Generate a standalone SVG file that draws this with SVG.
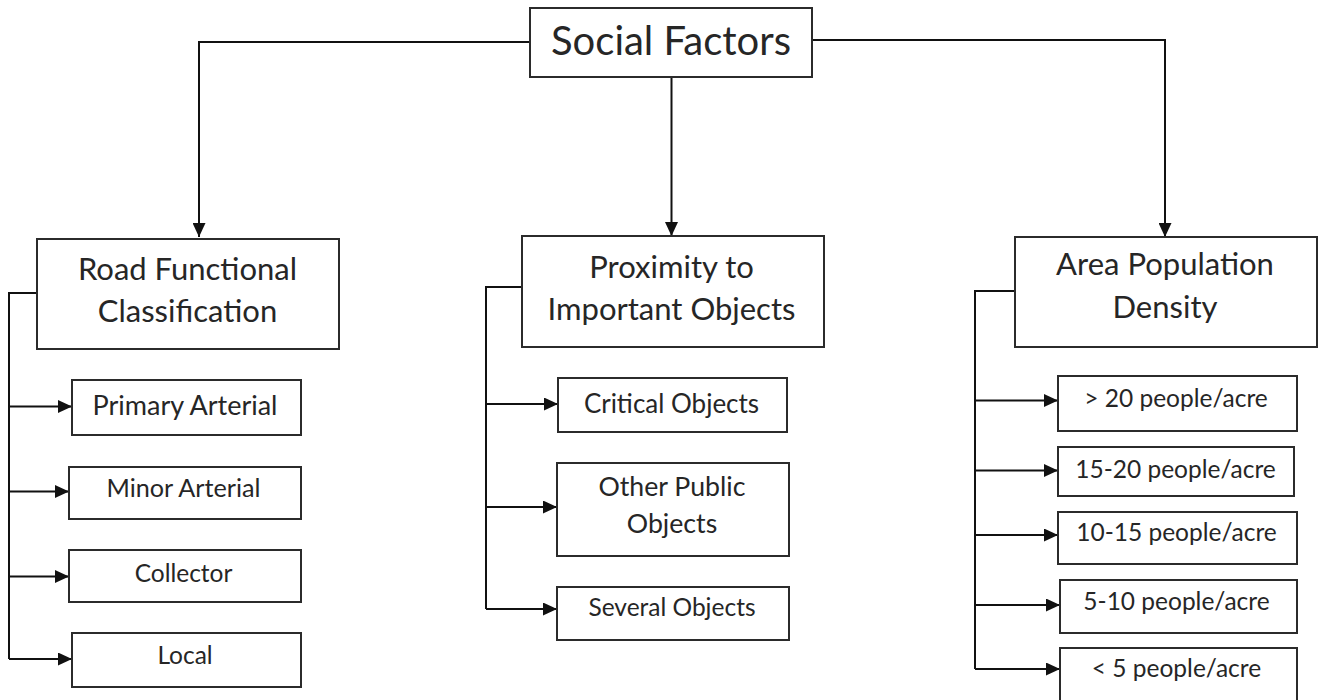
<svg xmlns="http://www.w3.org/2000/svg" width="1319" height="700" viewBox="0 0 1319 700">
<style>
.box{fill:#fff;stroke:#2b2b2b;stroke-width:2}
.t{font-family:Lato,"Liberation Sans",sans-serif;fill:#262626;text-anchor:middle}
.big{font-size:40px}
.mid{font-size:31px}
.sm{font-size:26px}
.xs{font-size:24.5px}
.c{fill:none;stroke:#111;stroke-width:2}
</style>
<defs>
<marker id="ah" markerUnits="userSpaceOnUse" markerWidth="15" markerHeight="13" refX="14" refY="6.5" orient="auto">
<path d="M0,0 L14,6.5 L0,13 Z" fill="#111"/>
</marker>
</defs>
<rect width="1319" height="700" fill="#fff"/>
<g id="connectors">
<path class="c" d="M530,42 H199 V237" marker-end="url(#ah)"/>
<path class="c" d="M671.5,77 V236" marker-end="url(#ah)"/>
<path class="c" d="M812,40 H1165 V237" marker-end="url(#ah)"/>
<path class="c" d="M37,293 H9 V659"/>
<path class="c" d="M9,406.5 H72" marker-end="url(#ah)"/>
<path class="c" d="M9,491.5 H69" marker-end="url(#ah)"/>
<path class="c" d="M9,576.5 H69" marker-end="url(#ah)"/>
<path class="c" d="M9,659 H72" marker-end="url(#ah)"/>
<path class="c" d="M522,287 H486 V609"/>
<path class="c" d="M486,404 H558" marker-end="url(#ah)"/>
<path class="c" d="M486,507 H557" marker-end="url(#ah)"/>
<path class="c" d="M486,609 H557" marker-end="url(#ah)"/>
<path class="c" d="M1015,291 H975 V669"/>
<path class="c" d="M975,400.5 H1058" marker-end="url(#ah)"/>
<path class="c" d="M975,470.5 H1058" marker-end="url(#ah)"/>
<path class="c" d="M975,535 H1058" marker-end="url(#ah)"/>
<path class="c" d="M975,605 H1060" marker-end="url(#ah)"/>
<path class="c" d="M975,669 H1060" marker-end="url(#ah)"/>
</g>
<g id="social">
<rect class="box" x="530" y="8" width="282" height="69"/>
<text class="t big" x="671" y="55">Social Factors</text>
</g>
<g id="road">
<rect class="box" x="37" y="239" width="302" height="110"/>
<text class="t mid" x="187.5" y="280">Road Functional</text>
<text class="t mid" x="187.5" y="322">Classification</text>
</g>
<g id="primary">
<rect class="box" x="72" y="380" width="229" height="55"/>
<text class="t" style="font-size:27px" x="185" y="415">Primary Arterial</text>
</g>
<g id="minor">
<rect class="box" x="69" y="467" width="232" height="52"/>
<text class="t" style="font-size:25.2px" x="183.5" y="497">Minor Arterial</text>
</g>
<g id="collector">
<rect class="box" x="69" y="550" width="232" height="52"/>
<text class="t xs" x="183.5" y="582">Collector</text>
</g>
<g id="local">
<rect class="box" x="72" y="633" width="229" height="54"/>
<text class="t xs" x="185" y="664">Local</text>
</g>
<g id="proximity">
<rect class="box" x="522" y="236" width="302" height="111"/>
<text class="t mid" x="671.5" y="278">Proximity to</text>
<text class="t mid" x="671.5" y="320">Important Objects</text>
</g>
<g id="critical">
<rect class="box" x="558" y="378" width="229" height="54"/>
<text class="t sm" x="671.5" y="413">Critical Objects</text>
</g>
<g id="other">
<rect class="box" x="557" y="463" width="232" height="93"/>
<text class="t" style="font-size:26.7px" x="672" y="496">Other Public</text>
<text class="t" style="font-size:26.7px" x="672" y="533">Objects</text>
</g>
<g id="several">
<rect class="box" x="557" y="587" width="232" height="53"/>
<text class="t xs" x="672" y="616">Several Objects</text>
</g>
<g id="area">
<rect class="box" x="1015" y="237" width="302" height="110"/>
<text class="t mid" x="1165" y="275">Area Population</text>
<text class="t mid" x="1165" y="318">Density</text>
</g>
<g id="d20">
<rect class="box" x="1058" y="376" width="239" height="55"/>
<text class="t xs" x="1176" y="407">&gt; 20 people/acre</text>
</g>
<g id="d1520">
<rect class="box" x="1058" y="447" width="236" height="49"/>
<text class="t xs" x="1175.5" y="478">15-20 people/acre</text>
</g>
<g id="d1015">
<rect class="box" x="1058" y="512" width="239" height="52"/>
<text class="t xs" x="1176.5" y="541">10-15 people/acre</text>
</g>
<g id="d510">
<rect class="box" x="1060" y="580" width="237" height="53"/>
<text class="t xs" x="1176.5" y="610">5-10 people/acre</text>
</g>
<g id="d5">
<rect class="box" x="1060" y="648" width="237" height="62"/>
<text class="t xs" x="1176.5" y="677">&lt; 5 people/acre</text>
</g>
</svg>
